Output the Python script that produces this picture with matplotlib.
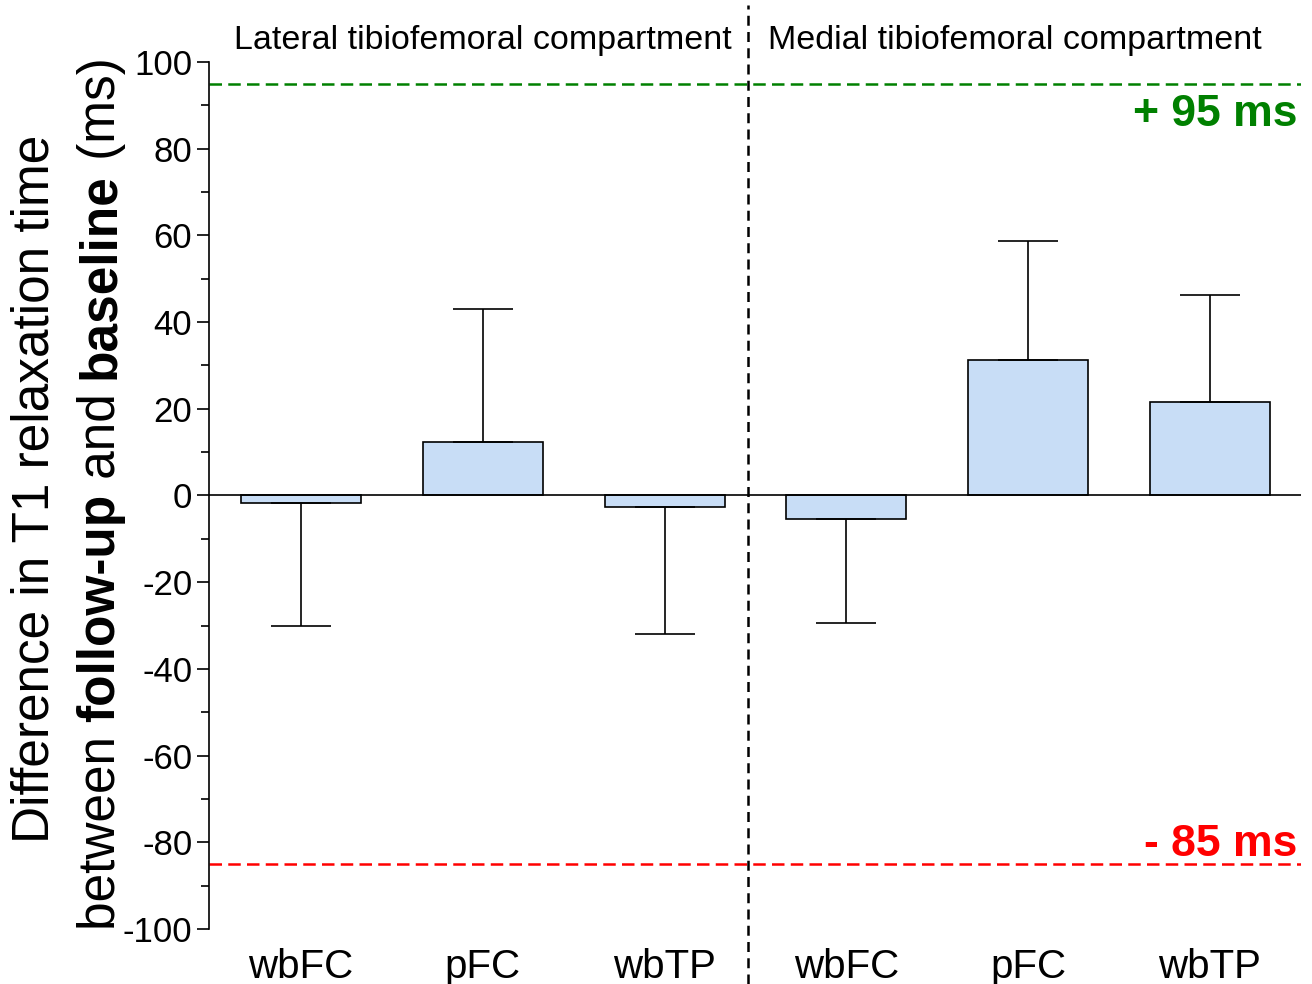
import matplotlib
matplotlib.use("Agg")
import matplotlib.pyplot as plt
from matplotlib.ticker import MultipleLocator
from matplotlib.transforms import blended_transform_factory

plt.rcParams['font.family'] = ['Liberation Sans', 'DejaVu Sans']
plt.rcParams['axes.unicode_minus'] = False

# data
categories = ['wbFC', 'pFC', 'wbTP', 'wbFC', 'pFC', 'wbTP']
means = [-1.7, 12.3, -2.7, -5.4, 31.3, 21.6]
sds = [28.3, 30.7, 29.3, 24.0, 27.4, 24.7]
compartments = ['Lateral tibiofemoral compartment', 'Medial tibiofemoral compartment']
upper_limit = 95
lower_limit = -85

fig = plt.figure(figsize=(13.12, 9.84), dpi=100)
ax = fig.add_axes([0.1593, 0.0559, 0.832, 0.8811])

x = list(range(len(categories)))
ax.bar(x, means, width=0.66, color='#C8DDF6', edgecolor='black', linewidth=1.2, zorder=2)

# one-sided error bars (away from zero)
for xi, m, s in zip(x, means, sds):
    if m >= 0:
        yerr = [[0], [s]]
    else:
        yerr = [[s], [0]]
    ax.errorbar(xi, m, yerr=yerr, fmt='none', ecolor='black', elinewidth=1.2,
                capsize=21.6, capthick=1.2, zorder=3)

ax.axhline(0, color='black', linewidth=1.2, zorder=4)
ax.axhline(upper_limit, color='#008000', linestyle=(0, (5, 2.5)), linewidth=1.8, zorder=1)
ax.axhline(lower_limit, color='#FF0000', linestyle=(0, (5, 2.5)), linewidth=1.8, zorder=1)

ax.text(0.997, 88.0, '+ %d ms' % upper_limit, transform=ax.get_yaxis_transform(),
        ha='right', va='center', color='#008000', fontsize=32, fontweight='bold')
ax.text(0.997, -80.4, '- %d ms' % abs(lower_limit), transform=ax.get_yaxis_transform(),
        ha='right', va='center', color='#FF0000', fontsize=32, fontweight='bold')

# divider between compartments
trans = blended_transform_factory(ax.transData, fig.transFigure)
ax.plot([2.46, 2.46], [0.0, 0.995], transform=trans, color='black',
        linestyle=(0, (4, 2.5)), linewidth=1.8, clip_on=False)

ax.text(1.0, 0.959, compartments[0], transform=trans,
        ha='center', va='center', fontsize=24.5)
ax.text(3.93, 0.959, compartments[1], transform=trans,
        ha='center', va='center', fontsize=24.5)

ax.set_xlim(-0.507, 5.5)
ax.set_ylim(-100, 100)
ax.yaxis.set_major_locator(MultipleLocator(20))
ax.yaxis.set_minor_locator(MultipleLocator(10))
ax.set_xticks(x)
ax.set_xticklabels(categories, fontsize=29)
ax.tick_params(axis='x', length=0, pad=14)
ax.tick_params(axis='y', which='major', length=9, width=1.2, labelsize=25, pad=3)
ax.tick_params(axis='y', which='minor', length=6, width=1.2)

for side in ['top', 'right', 'bottom']:
    ax.spines[side].set_visible(False)
ax.spines['left'].set_linewidth(1.2)

# y label, two lines with bold parts
fig.text(0.027, 0.503, 'Difference in T1 relaxation time', rotation=90,
         ha='center', va='center', fontsize=37)
pieces = [('between ', 'normal'), ('follow-up', 'bold'), (' and ', 'normal'),
          ('baseline', 'bold'), (' (ms)', 'normal')]
prev = fig.text(0.077, 0.055, pieces[0][0], rotation=90, ha='center', va='bottom',
                fontsize=37, fontweight=pieces[0][1])
for txt, wt in pieces[1:]:
    prev = ax.annotate(txt, xy=(0.5, 1), xycoords=prev, rotation=90, ha='center',
                       va='bottom', fontsize=37, fontweight=wt, annotation_clip=False)

fig.savefig('out.png', dpi=100)
